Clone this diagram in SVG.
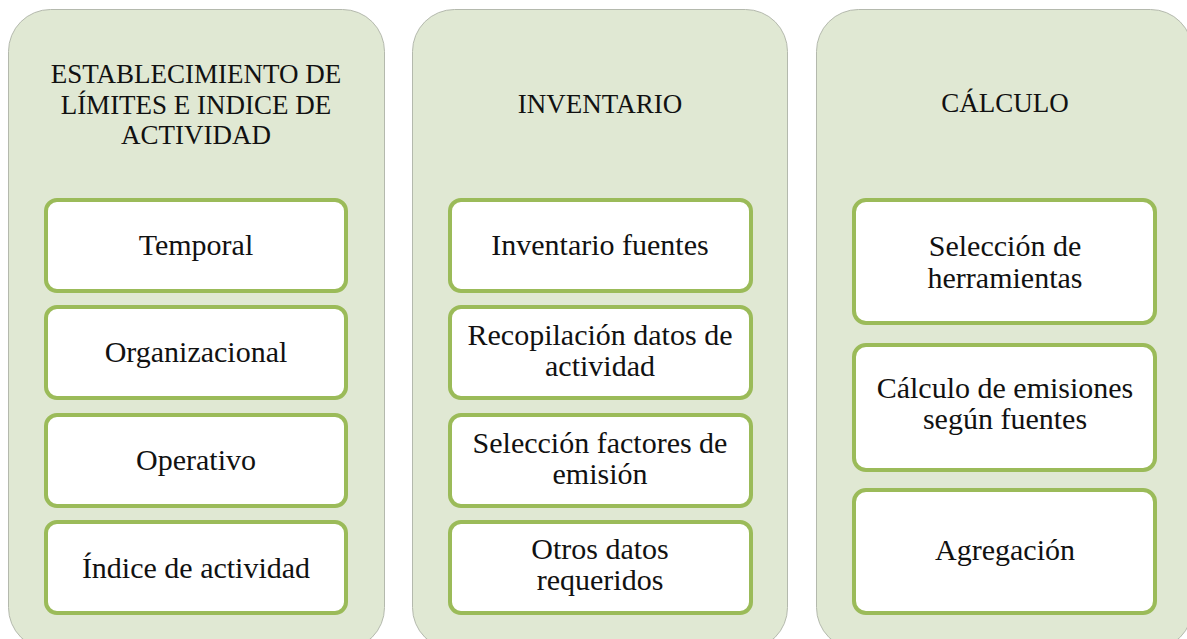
<svg xmlns="http://www.w3.org/2000/svg" width="1187" height="639" viewBox="0 0 1187 639">
<style>
.col{fill:#e0e8d3;stroke:#b4b9ad;stroke-width:1}
.box{fill:#ffffff;stroke:#9bbb59;stroke-width:4}
.t{font-family:"Liberation Serif","Times New Roman",serif;fill:#111;text-anchor:middle}
.h{font-size:27px}
.b{font-size:30px}
</style>
<rect width="1187" height="639" fill="#ffffff"/>
<g id="col1">
<rect class="col" x="8.5" y="9.5" width="376" height="640" rx="42"/>
<text class="t h" x="196" y="83">ESTABLECIMIENTO DE</text>
<text class="t h" x="196" y="114">LÍMITES E INDICE DE</text>
<text class="t h" x="196" y="144">ACTIVIDAD</text>
</g>
<g id="col2">
<rect class="col" x="412.5" y="9.5" width="375" height="640" rx="42"/>
<text class="t h" x="600" y="113">INVENTARIO</text>
</g>
<g id="col3">
<rect class="col" x="816.5" y="9.5" width="376" height="640" rx="42"/>
<text class="t h" x="1005" y="112">CÁLCULO</text>
</g>
<g id="n-temporal"><rect class="box" x="46" y="200" width="300" height="91" rx="11"/><text class="t b" x="196" y="255">Temporal</text></g>
<g id="n-organizacional"><rect class="box" x="46" y="307" width="300" height="91" rx="11"/><text class="t b" x="196" y="362">Organizacional</text></g>
<g id="n-operativo"><rect class="box" x="46" y="415" width="300" height="91" rx="11"/><text class="t b" x="196" y="470">Operativo</text></g>
<g id="n-indice"><rect class="box" x="46" y="522" width="300" height="91" rx="11"/><text class="t b" x="196" y="578">Índice de actividad</text></g>
<g id="n-inventario-fuentes"><rect class="box" x="450" y="200" width="301" height="91" rx="11"/><text class="t b" x="600" y="255">Inventario fuentes</text></g>
<g id="n-recopilacion"><rect class="box" x="450" y="307" width="301" height="91" rx="11"/><text class="t b" x="600" y="345">Recopilación datos de</text><text class="t b" x="600" y="376">actividad</text></g>
<g id="n-factores"><rect class="box" x="450" y="415" width="301" height="91" rx="11"/><text class="t b" x="600" y="453">Selección factores de</text><text class="t b" x="600" y="484">emisión</text></g>
<g id="n-otros"><rect class="box" x="450" y="522" width="301" height="91" rx="11"/><text class="t b" x="600" y="559">Otros datos</text><text class="t b" x="600" y="590">requeridos</text></g>
<g id="n-herramientas"><rect class="box" x="854" y="200" width="301" height="123" rx="12"/><text class="t b" x="1005" y="256">Selección de</text><text class="t b" x="1005" y="288">herramientas</text></g>
<g id="n-emisiones"><rect class="box" x="854" y="345" width="301" height="125" rx="12"/><text class="t b" x="1005" y="398">Cálculo de emisiones</text><text class="t b" x="1005" y="429">según fuentes</text></g>
<g id="n-agregacion"><rect class="box" x="854" y="490" width="301" height="123" rx="12"/><text class="t b" x="1005" y="560">Agregación</text></g>
<g id="connectors"></g>
</svg>
